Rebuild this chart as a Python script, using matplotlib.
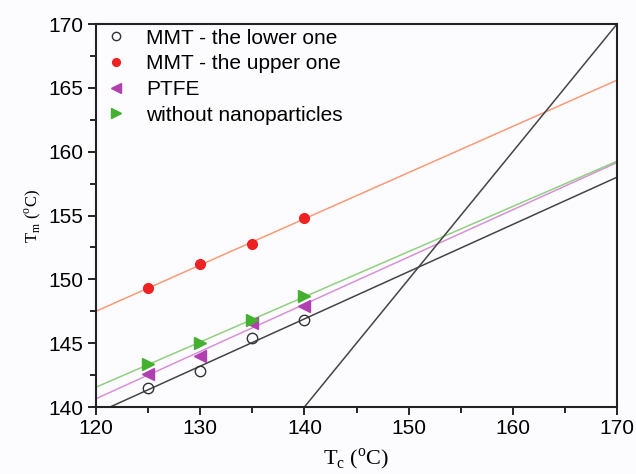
import numpy as np
import matplotlib.pyplot as plt
from matplotlib.ticker import MultipleLocator

tc = [125, 130, 135, 140]
mmt_lower = [141.5, 142.8, 145.4, 146.8]
mmt_upper = [149.3, 151.2, 152.8, 154.8]
ptfe = [142.6, 144.0, 146.6, 147.9]
no_nano = [143.4, 145.0, 146.8, 148.7]
labels = ['MMT - the lower one', 'MMT - the upper one', 'PTFE', 'without nanoparticles']

plt.rcParams['font.family'] = ['Liberation Sans', 'DejaVu Sans']
plt.rcParams['mathtext.fontset'] = 'custom'
plt.rcParams['mathtext.rm'] = 'Liberation Serif'

fig = plt.figure(figsize=(6.36, 4.74), dpi=100, facecolor='#fcfcfe')
ax = fig.add_axes([96 / 636, 1 - 407 / 474, 521 / 636, 383 / 474])
ax.set_facecolor('#fcfcfe')

xfit = np.array([120, 170])
styles = [
    (mmt_lower, dict(marker='o', mfc='none', mec='#333333', ms=7.5, mew=1.0), '#444444'),
    (mmt_upper, dict(marker='o', mfc='#ee2222', mec='#ee2222', ms=7), '#f89a78'),
    (ptfe, dict(marker='<', mfc='#b040b0', mec='#b040b0', ms=8.5), '#d890d8'),
    (no_nano, dict(marker='>', mfc='#44b030', mec='#44b030', ms=8.5), '#90d080'),
]
for (vals, mk, lc), lab in zip(styles, labels):
    k, b = np.polyfit(tc, vals, 1)
    ax.plot(xfit, k * xfit + b, color=lc, lw=1.1, zorder=2)
    ax.plot(tc, vals, ls='none', label=lab, zorder=3, **mk)

# Tm = Tc line
ax.plot([140, 170], [140, 170], color='#444444', lw=1.1, zorder=2)

ax.set_xlim(120, 170)
ax.set_ylim(140, 170)
ax.xaxis.set_major_locator(MultipleLocator(10))
ax.xaxis.set_minor_locator(MultipleLocator(5))
ax.yaxis.set_major_locator(MultipleLocator(5))
ax.yaxis.set_minor_locator(MultipleLocator(2.5))
ax.tick_params(which='major', direction='out', length=6, width=1.2, labelsize=15, pad=3)
ax.tick_params(which='minor', direction='out', length=4, width=1.2)
for s in ax.spines.values():
    s.set_linewidth(1.5)
    s.set_color('#222222')

ax.set_xlabel(r'T$_\mathrm{c}$ ($^\mathrm{o}$C)', family='Liberation Serif', fontsize=16, labelpad=6)
ax.set_ylabel(r'T$_\mathrm{m}$ ($^\mathrm{o}$C)', family='Liberation Serif', fontsize=12, labelpad=4)

leg = ax.legend(loc='upper left', bbox_to_anchor=(-0.002, 1.01), frameon=False, fontsize=15,
                handletextpad=0.85, labelspacing=0.32, borderaxespad=0.0, handlelength=1.2,
                markerscale=0.8)

fig.savefig('out.png', dpi=100, facecolor=fig.get_facecolor())
